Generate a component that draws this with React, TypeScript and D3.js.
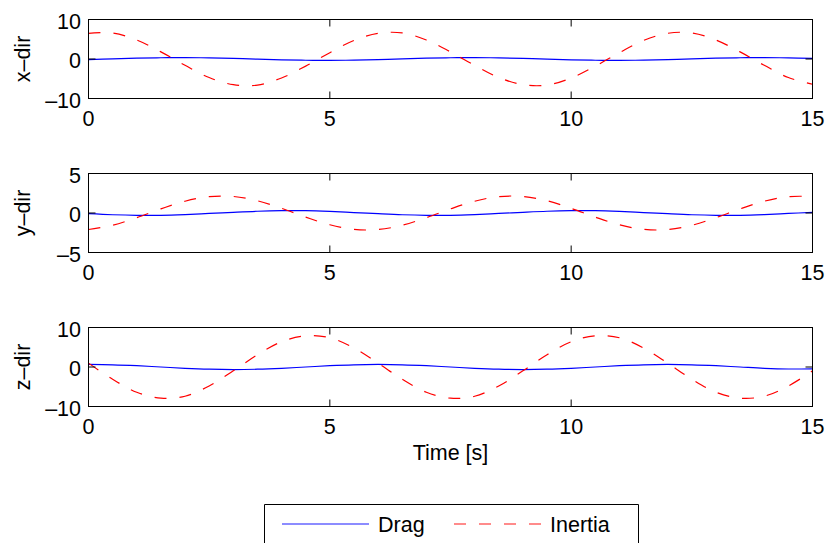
import React from "react";
import * as d3 from "d3";

const times = [0, 0.5, 1, 1.5, 2, 2.5, 3, 3.5, 4, 4.5, 5, 5.5, 6, 6.5, 7, 7.5, 8, 8.5, 9, 9.5, 10, 10.5, 11, 11.5, 12, 12.5, 13, 13.5, 14, 14.5, 15];

const xInertia = [6.5, 6.6, 4.8, 1.8, -1.6, -4.7, -6.5, -6.6, -4.8, -1.8, 1.6, 4.7, 6.5, 6.6, 4.8, 1.8, -1.6, -4.7, -6.5, -6.6, -4.8, -1.8, 1.6, 4.7, 6.5, 6.6, 4.8, 1.8, -1.6, -4.7, -6.4];
const xDrag = [-0.14, 0.04, 0.21, 0.32, 0.35, 0.28, 0.14, -0.04, -0.21, -0.32, -0.35, -0.28, -0.14, 0.04, 0.21, 0.32, 0.35, 0.28, 0.14, -0.04, -0.21, -0.32, -0.35, -0.28, -0.14, 0.04, 0.21, 0.32, 0.35, 0.28, 0.14];

const yInertia = [-2.09, -1.55, -0.59, 0.52, 1.49, 2.07, 2.09, 1.55, 0.59, -0.52, -1.49, -2.07, -2.09, -1.55, -0.59, 0.52, 1.49, 2.07, 2.09, 1.55, 0.59, -0.52, -1.49, -2.07, -2.09, -1.55, -0.59, 0.52, 1.49, 2.07, 2.09];
const yDrag = [-0.09, -0.22, -0.29, -0.29, -0.2, -0.06, 0.09, 0.22, 0.29, 0.29, 0.2, 0.06, -0.09, -0.22, -0.29, -0.29, -0.2, -0.06, 0.09, 0.22, 0.29, 0.29, 0.2, 0.06, -0.09, -0.22, -0.29, -0.29, -0.2, -0.06, 0.09];

const zInertia = [0.98, -3.1, -6.4, -7.9, -7.4, -4.8, -0.98, 3.1, 6.4, 7.9, 7.4, 4.8, 0.98, -3.1, -6.4, -7.9, -7.4, -4.8, -0.98, 3.1, 6.4, 7.9, 7.4, 4.8, 0.98, -3.1, -6.4, -7.9, -7.4, -4.8, -0.98];
const zDrag = [0.65, 0.56, 0.33, 0, -0.33, -0.56, -0.65, -0.56, -0.33, 0, 0.33, 0.56, 0.65, 0.56, 0.33, 0, -0.33, -0.56, -0.65, -0.56, -0.33, 0, 0.33, 0.56, 0.65, 0.56, 0.33, 0, -0.33, -0.5, -0.45];

const xTicks = [0, 5, 10, 15];
const panelLabels = ["x–dir", "y–dir", "z–dir"];
const panelLimits = [10, 5, 10];
const legendLabels = ["Drag", "Inertia"];
const xLabel = "Time [s]";

const W = 827;
const H = 543;
const left = 88.5;
const right = 812.5;
const panelTops = [19.5, 173.5, 327.5];
const panelH = 79;
const FONT = "'Liberation Sans', Arial, Helvetica, sans-serif";
const FS = 21.5;
const TICK = 7;

const fmt = (v: number) => (v < 0 ? "–" + Math.abs(v) : String(v));

function Panel({ idx, drag, inertia }: { idx: number; drag: number[]; inertia: number[] }) {
  const top = panelTops[idx];
  const bottom = top + panelH;
  const lim = panelLimits[idx];
  const x = d3.scaleLinear().domain([0, 15]).range([left, right]);
  const y = d3.scaleLinear().domain([-lim, lim]).range([bottom, top]);
  const yTicks = [-lim, 0, lim];
  const line = d3
    .line<number>()
    .x((_, i) => x(times[i]))
    .y((d) => y(d))
    .curve(d3.curveCatmullRom.alpha(0.5));
  const clipId = `clip${idx}`;
  return (
    <g>
      <defs>
        <clipPath id={clipId}>
          <rect x={left} y={top} width={right - left} height={bottom - top} />
        </clipPath>
      </defs>
      <g clipPath={`url(#${clipId})`}>
        <path d={line(drag) || ""} fill="none" stroke="#0000ff" strokeWidth={1.2} />
        <path d={line(inertia) || ""} fill="none" stroke="#ff0000" strokeWidth={1.2} strokeDasharray="12,13" />
      </g>
      {xTicks.map((t) => (
        <g key={"xt" + t}>
          <line x1={x(t)} x2={x(t)} y1={bottom} y2={bottom - TICK} stroke="#000" strokeWidth={1} />
          <line x1={x(t)} x2={x(t)} y1={top} y2={top + TICK} stroke="#000" strokeWidth={1} />
          <text x={x(t)} y={bottom + 27} textAnchor="middle" fontFamily={FONT} fontSize={FS} fill="#000">
            {fmt(t)}
          </text>
        </g>
      ))}
      {yTicks.map((t) => (
        <g key={"yt" + t}>
          <line x1={left} x2={left + TICK} y1={y(t)} y2={y(t)} stroke="#000" strokeWidth={1} />
          <line x1={right} x2={right - TICK} y1={y(t)} y2={y(t)} stroke="#000" strokeWidth={1} />
          <text x={81} y={y(t) + 9} textAnchor="end" fontFamily={FONT} fontSize={FS} fill="#000">
            {fmt(t)}
          </text>
        </g>
      ))}
      <rect x={left} y={top} width={right - left} height={bottom - top} fill="none" stroke="#000" strokeWidth={1} />
      <text
        transform={`translate(${30},${(top + bottom) / 2}) rotate(-90)`}
        textAnchor="middle"
        fontFamily={FONT}
        fontSize={FS}
        fill="#000"
      >
        {panelLabels[idx]}
      </text>
    </g>
  );
}

export default function App() {
  const legendY = 524;
  return (
    <svg width={W} height={H} style={{ position: "absolute", left: 0, top: 0, background: "#fff" }}>
      <rect x={0} y={0} width={W} height={H} fill="#fff" />
      <Panel idx={0} drag={xDrag} inertia={xInertia} />
      <Panel idx={1} drag={yDrag} inertia={yInertia} />
      <Panel idx={2} drag={zDrag} inertia={zInertia} />
      <text x={(left + right) / 2} y={460} textAnchor="middle" fontFamily={FONT} fontSize={FS} fill="#000">
        {xLabel}
      </text>
      <path d={`M264.5,${H + 2} V504.5 H638.5 V${H + 2}`} fill="none" stroke="#000" strokeWidth={1} />
      <line x1={282} x2={369} y1={legendY} y2={legendY} stroke="#6666ff" strokeWidth={1.3} />
      <text x={378} y={legendY + 7.5} fontFamily={FONT} fontSize={FS} fill="#000">
        {legendLabels[0]}
      </text>
      <line x1={454} x2={542} y1={legendY} y2={legendY} stroke="#ff6666" strokeWidth={1.3} strokeDasharray="12,13" />
      <text x={550} y={legendY + 7.5} fontFamily={FONT} fontSize={FS} fill="#000">
        {legendLabels[1]}
      </text>
    </svg>
  );
}
